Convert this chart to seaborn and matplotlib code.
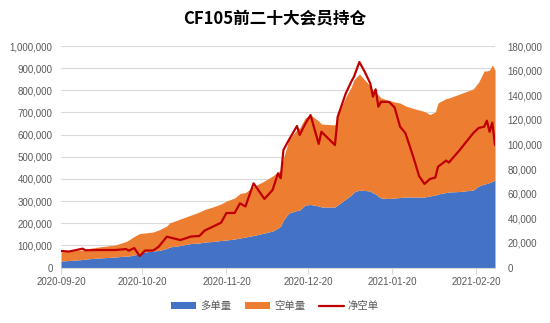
import matplotlib
matplotlib.use("Agg")
import matplotlib.pyplot as plt
import matplotlib.dates as mdates
import matplotlib.ticker as mticker
from matplotlib.patches import Patch
from matplotlib.lines import Line2D
import numpy as np
import pandas as pd
import seaborn as sns

# ---- data -------------------------------------------------------------
title = "CF105前二十大会员持仓"
series_names = ["多单量", "空单量", "净空单"]

dates = [
    "2020-09-20", "2020-09-23", "2020-09-28", "2020-09-29", "2020-10-04",
    "2020-10-10", "2020-10-14", "2020-10-15", "2020-10-17", "2020-10-19",
    "2020-10-21", "2020-10-24", "2020-10-26", "2020-10-29", "2020-10-30",
    "2020-11-03", "2020-11-07", "2020-11-10", "2020-11-12", "2020-11-15",
    "2020-11-18", "2020-11-20", "2020-11-23", "2020-11-25", "2020-11-27",
    "2020-11-30", "2020-12-04", "2020-12-07", "2020-12-09", "2020-12-10",
    "2020-12-11", "2020-12-13", "2020-12-16", "2020-12-17", "2020-12-19",
    "2020-12-21", "2020-12-24", "2020-12-25", "2020-12-30", "2020-12-31",
    "2021-01-03", "2021-01-05", "2021-01-06", "2021-01-08", "2021-01-10",
    "2021-01-12", "2021-01-13", "2021-01-14", "2021-01-15", "2021-01-16",
    "2021-01-19", "2021-01-21", "2021-01-23", "2021-01-25", "2021-01-28",
    "2021-01-30", "2021-02-01", "2021-02-03", "2021-02-05", "2021-02-06",
    "2021-02-09", "2021-02-10", "2021-02-14", "2021-02-19", "2021-02-21",
    "2021-02-23", "2021-02-24", "2021-02-25", "2021-02-26", "2021-02-27",
]

# long positions (left axis)
long_pos = [
    29300, 31600, 36100, 38400, 42900, 47400, 51900, 51900, 56400, 65500,
    70000, 74500, 76800, 85800, 92600, 99300, 108400, 110600, 115100, 117400,
    121900, 124200, 128700, 133200, 137700, 144500, 155800, 164800, 178300, 187400,
    214500, 246100, 257400, 259600, 282200, 284400, 277700, 273200, 273200, 282200,
    309300, 327300, 340900, 349900, 347700, 345400, 336400, 331900, 320600, 313800,
    311500, 313800, 316100, 318300, 318300, 318300, 318300, 322800, 327300, 331900,
    338600, 340900, 343100, 349900, 368000, 377000, 379300, 383800, 388300, 395100,
]

# short positions (left axis, stacked on top of long)
short_pos = [
    40700, 42900, 42900, 45100, 49700, 54200, 65500, 72300, 83600, 88000,
    85800, 85800, 92500, 101600, 108300, 119700, 128600, 140000, 146800, 155800,
    164800, 176000, 185100, 200900, 200900, 221200, 234700, 248300, 252900, 252800,
    279900, 329600, 365700, 370200, 392800, 404100, 383700, 374700, 370200, 406300,
    460500, 487700, 505700, 523700, 498900, 474100, 465000, 460500, 458200, 451500,
    442500, 433400, 426600, 410900, 399600, 392800, 386000, 368000, 374800, 410800,
    424400, 424400, 440300, 456000, 469500, 510200, 507900, 507900, 526000, 496600,
]

# net short (right axis)
net_short = [
    13400, 13000, 15300, 14000, 14200, 14200, 15000, 13700, 15800, 9300,
    13800, 13800, 16900, 25000, 24500, 22300, 25200, 25600, 30100, 33200,
    36400, 44300, 44300, 52200, 49600, 68400, 55700, 63000, 76500, 72500,
    95500, 103600, 115000, 107700, 116600, 123900, 100400, 110300, 99500, 122500,
    141600, 151000, 155000, 167000, 158900, 149700, 138800, 144800, 130700, 134700,
    134500, 130000, 114400, 109100, 89000, 74400, 67900, 71900, 73100, 81900,
    86900, 85300, 95500, 109300, 113400, 114400, 119300, 110300, 117700, 99500,
]

tick_dates = ["2020-09-20", "2020-10-20", "2020-11-20",
              "2020-12-20", "2021-01-20", "2021-02-20"]

# ---- style ------------------------------------------------------------
sns.set_theme(style="white")
plt.rcParams["font.family"] = ["Liberation Sans", "Noto Sans CJK SC", "DejaVu Sans"]

BLUE, ORANGE, RED = "#4472C4", "#ED7D31", "#C00000"
GRID, TEXT = "#D9D9D9", "#595959"

df = pd.DataFrame({
    "date": pd.to_datetime(dates),
    "long": long_pos,
    "short": short_pos,
    "net": net_short,
})

W, H = 550, 323
fig = plt.figure(figsize=(W / 100, H / 100), dpi=100)
left, right, top, bottom = 61, 495, 46, 267.5
ax = fig.add_axes([left / W, 1 - bottom / H, (right - left) / W, (bottom - top) / H])

# stacked areas: long then short
ax.stackplot(df["date"], df["long"], df["short"],
             colors=[BLUE, ORANGE], linewidth=0, zorder=2)

ax2 = ax.twinx()
sns.lineplot(data=df, x="date", y="net", ax=ax2, color=RED,
             linewidth=1.6, legend=False)

x0, x1 = pd.Timestamp("2020-09-20"), pd.Timestamp("2021-02-27")
ax.set_xlim(x0, x1)
ax2.set_xlim(x0, x1)

ax.set_ylim(0, 1_000_000)
ax.set_yticks(np.arange(0, 1_000_001, 100_000))
ax2.set_ylim(0, 180_000)
ax2.set_yticks(np.arange(0, 180_001, 20_000))
fmt = mticker.FuncFormatter(lambda v, p: f"{v:,.0f}")
ax.yaxis.set_major_formatter(fmt)
ax2.yaxis.set_major_formatter(fmt)

ax.set_xticks(pd.to_datetime(tick_dates))
ax.xaxis.set_major_formatter(mdates.DateFormatter("%Y-%m-%d"))

ax.yaxis.grid(True, color=GRID, linewidth=0.8)
ax.set_axisbelow(True)

for a in (ax, ax2):
    a.set_xlabel("")
    a.set_ylabel("")
    for s in a.spines.values():
        s.set_visible(False)
ax.spines["bottom"].set_visible(True)
ax.spines["bottom"].set_color(GRID)
ax.spines["bottom"].set_linewidth(0.8)
ax.spines["bottom"].set_zorder(5)

ax.tick_params(axis="x", bottom=True, length=4, width=0.8, color=GRID,
               labelsize=7, labelcolor=TEXT, pad=3)
ax.tick_params(axis="y", left=False, length=0, labelsize=7,
               labelcolor=TEXT, pad=6)
ax2.tick_params(axis="y", right=False, length=0, labelsize=7,
                labelcolor=TEXT, pad=9)
ax2.tick_params(axis="x", bottom=False, labelbottom=False)

fig.text(0.5, 1 - 18 / H, title, ha="center", va="center",
         fontsize=12, fontweight="bold", color="#000000",
         family=["Noto Sans CJK SC", "DejaVu Sans"])

handles = [
    Patch(facecolor=BLUE, edgecolor="none"),
    Patch(facecolor=ORANGE, edgecolor="none"),
    Line2D([], [], color=RED, linewidth=1.6),
]
fig.legend(handles, series_names, loc="center",
           bbox_to_anchor=(0.5, 1 - 306 / H), ncol=3, frameon=False,
           prop={"family": ["Noto Sans CJK SC", "DejaVu Sans"], "size": 7.5},
           labelcolor=TEXT, handlelength=2.4, handleheight=0.55,
           handletextpad=0.4, columnspacing=1.3)

fig.savefig("out.png", dpi=100)
